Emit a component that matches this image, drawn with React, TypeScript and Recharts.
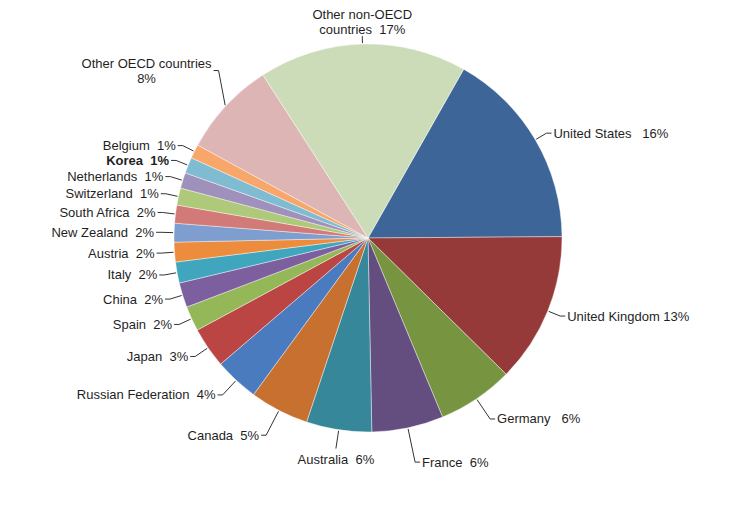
import React from "react";
import { PieChart, Pie, Cell } from "recharts";

// slice order runs clockwise from the United States
const countries = [
  "United States", "United Kingdom", "Germany", "France", "Australia", "Canada",
  "Russian Federation", "Japan", "Spain", "China", "Italy", "Austria", "New Zealand",
  "South Africa", "Switzerland", "Netherlands", "Korea", "Belgium",
  "Other OECD countries", "Other non-OECD countries",
];

const shares = [
  16.68, 12.5, 6.33, 5.97, 5.44, 4.92, 3.69, 3.39, 2.08, 2.06, 1.75, 1.64, 1.56,
  1.5, 1.42, 1.31, 1.33, 1.17, 7.94, 17.32,
];

const labelTexts = [
  "United States   16%", "United Kingdom 13%", "Germany   6%", "France  6%",
  "Australia  6%", "Canada  5%", "Russian Federation  4%", "Japan  3%", "Spain  2%",
  "China  2%", "Italy  2%", "Austria  2%", "New Zealand  2%", "South Africa  2%",
  "Switzerland  1%", "Netherlands  1%", "Korea  1%", "Belgium  1%",
  "Other OECD countries\n8%", "Other non-OECD\ncountries  17%",
];

const colors = [
  "#3e6597", "#953a38", "#779440", "#644e80", "#37879b", "#c8702f", "#4a7bbf",
  "#ba4543", "#94b857", "#7d5fa0", "#3fa6be", "#ee8c3e", "#7f9ed0", "#d27a78",
  "#afc97a", "#a090bc", "#7fbcd2", "#f9a66a", "#ddb5b4", "#cddcb8",
];

const data = countries.map((name, i) => ({ name, value: shares[i] }));

const FONT = "'Liberation Sans', Arial, sans-serif";
const RAD = Math.PI / 180;

let ctx: CanvasRenderingContext2D | null = null;
const textWidth = (t: string) => {
  if (!ctx) ctx = document.createElement("canvas").getContext("2d");
  if (!ctx) return t.length * 6.5;
  ctx.font = `13px ${FONT}`;
  return ctx.measureText(t).width;
};

const renderLabel = (props: any) => {
  const { cx, cy, midAngle, outerRadius, index } = props;
  const c = Math.cos(-midAngle * RAD);
  const s = Math.sin(-midAngle * RAD);
  const lines = labelTexts[index].split("\n");
  const style: React.CSSProperties = {
    fontFamily: FONT,
    fontSize: 13,
    fill: "#1f1f1f",
    fontWeight: countries[index] === "Korea" ? 700 : 400,
    whiteSpace: "pre",
  };
  const lh = 15;
  const sx = cx + (outerRadius + 1) * c;
  const sy = cy + (outerRadius + 1) * s;

  // labels straight above / below the pie are centred on their leader
  if (Math.abs(c) < 0.18) {
    const up = s < 0;
    const r2 = outerRadius + (up ? 8 : 19);
    const ex = cx + r2 * c;
    const ey = cy + r2 * s;
    const firstY = up ? ey - 2 - (lines.length - 1) * lh : ey + 15;
    return (
      <g key={`l-${index}`}>
        <line x1={sx} y1={sy} x2={ex} y2={ey} stroke="#333" strokeWidth={1} />
        <text x={ex} y={firstY} textAnchor="middle" style={style}>
          {lines.map((l, i) => (
            <tspan key={i} x={ex} dy={i ? lh : 0}>{l}</tspan>
          ))}
        </text>
      </g>
    );
  }

  const side = c >= 0 ? 1 : -1;
  const multi = lines.length > 1;
  // leaders under the pie drop further down before turning
  const reach = outerRadius + 13 + (s > 0 ? 24 * Math.pow(s, 4) : 0);
  const ex = cx + (multi ? outerRadius + 10 : reach) * c;
  const ey = cy + (multi ? outerRadius + 52 : reach) * s;
  const tx = ex + side * 5;
  const line = `${sx},${sy} ${ex},${ey} ${tx},${ey}`;

  if (multi) {
    const w = Math.max(...lines.map(textWidth));
    const mx = tx + side * (2 + w / 2);
    const firstY = ey + 4.5 - ((lines.length - 1) * lh) / 2;
    return (
      <g key={`l-${index}`}>
        <polyline points={line} fill="none" stroke="#333" strokeWidth={1} />
        <text x={mx} y={firstY} textAnchor="middle" style={style}>
          {lines.map((l, i) => (
            <tspan key={i} x={mx} dy={i ? lh : 0}>{l}</tspan>
          ))}
        </text>
      </g>
    );
  }

  return (
    <g key={`l-${index}`}>
      <polyline points={line} fill="none" stroke="#333" strokeWidth={1} />
      <text x={tx + side * 2} y={ey + 4.5} textAnchor={side > 0 ? "start" : "end"} style={style}>
        {lines[0]}
      </text>
    </g>
  );
};

const App: React.FC = () => {
  return (
    <div style={{ position: "absolute", left: 0, top: 0, width: 752, height: 505, background: "#fff" }}>
      <PieChart width={752} height={505} margin={{ top: 0, right: 0, bottom: 0, left: 0 }}>
        <Pie
          data={data}
          dataKey="value"
          nameKey="name"
          cx={368}
          cy={238}
          outerRadius={194}
          startAngle={60.45}
          endAngle={-299.55}
          stroke="rgba(255,255,255,0.55)"
          strokeWidth={0.75}
          label={renderLabel}
          labelLine={false}
          isAnimationActive={false}
        >
          {data.map((d, i) => (
            <Cell key={d.name} fill={colors[i]} />
          ))}
        </Pie>
      </PieChart>
    </div>
  );
};

export default App;
